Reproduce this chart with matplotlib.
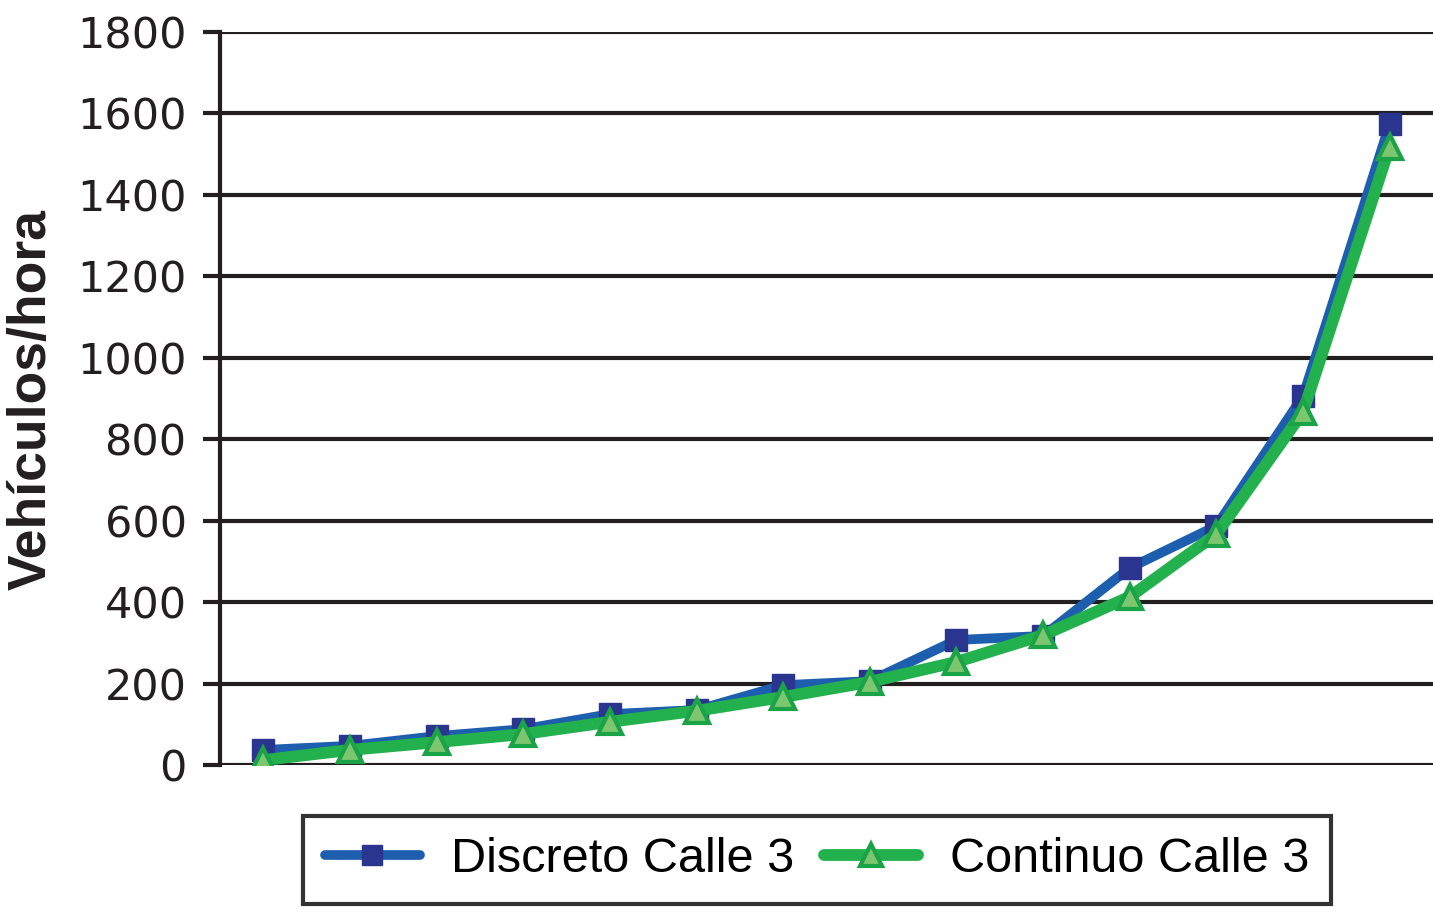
import matplotlib
matplotlib.use("Agg")
import matplotlib.pyplot as plt
import numpy as np

categories = list(range(1, 15))
discreto = [37, 47, 71, 88, 125, 135, 196, 206, 307, 317, 484, 587, 906, 1574]
continuo = [12, 37, 56, 76, 106, 133, 167, 204, 253, 319, 413, 567, 867, 1518]
yticks = [0, 200, 400, 600, 800, 1000, 1200, 1400, 1600, 1800]
labels = ["Discreto Calle 3", "Continuo Calle 3"]

fig = plt.figure(figsize=(14.33, 9.09), dpi=100)
ax = fig.add_axes([220/1433, 1-765/909, 1-220/1433, (765-32)/909])

x = np.arange(len(categories))
ax.plot(x, discreto, color="#1d5fae", lw=7, marker="s", ms=16,
        mfc="#2a3590", mec="#2a3590", label=labels[0], zorder=3,
        solid_joinstyle="round", solid_capstyle="round")
ax.plot(x, continuo, color="#22b14c", lw=8.5, marker="^", ms=17,
        mfc="#7cc66f", mec="#1aa347", mew=3, label=labels[1], zorder=4,
        solid_joinstyle="round", solid_capstyle="round")

ax.set_xlim(-0.5, len(categories) - 0.5)
ax.set_ylim(0, 1800)
ax.set_yticks(yticks)
ax.set_xticks([])
ax.yaxis.grid(True, color="#231f20", lw=3)
ax.set_axisbelow(True)
for s in ["top", "right", "bottom"]:
    ax.spines[s].set_visible(False)
ax.spines["left"].set_linewidth(3)
ax.spines["left"].set_color("#231f20")
ax.tick_params(axis="y", length=12, width=3, color="#231f20", pad=12,
               labelsize=31, labelcolor="#231f20")
for t in ax.get_yticklabels():
    t.set_fontfamily("DejaVu Sans")

ax.set_ylabel("Vehículos/hora", fontsize=38.5, fontweight="bold",
              family="Liberation Sans", color="#231f20")
ax.yaxis.set_label_coords((57 - 220) / 1213, (765 - 400) / 733)

leg = fig.legend(loc="center", bbox_to_anchor=(817/1433, 1-860/909), ncol=2,
                 frameon=True, fancybox=False, edgecolor="#000000",
                 prop={"family": "Liberation Sans", "size": 35},
                 handlelength=1.95, columnspacing=0.6, handletextpad=0.65,
                 borderpad=0.45, markerscale=0.9)
leg.get_frame().set_linewidth(3)

fig.savefig("out.png", dpi=100)
